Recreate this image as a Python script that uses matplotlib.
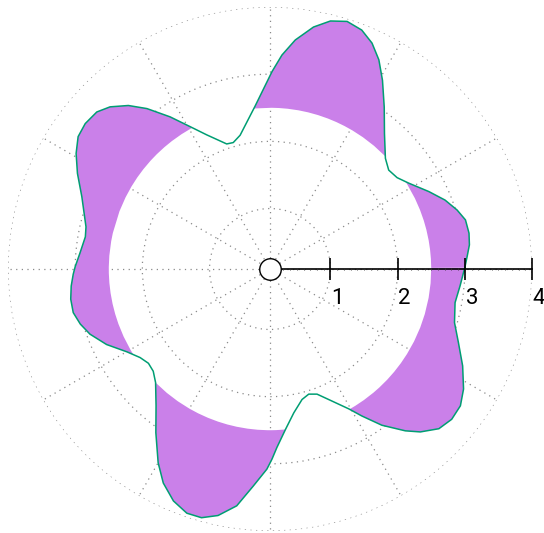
import numpy as np
import matplotlib
matplotlib.use('Agg')
import matplotlib.pyplot as plt

theta_deg = [0.4, 3.6, 6.9, 10.2, 14.1, 17.5, 21.5, 26.0, 31.7, 35.7,
             39.8, 43.8, 49.8, 54.8, 59.2, 62.5, 65.7, 69.0, 72.7, 76.3,
             79.8, 83.7, 86.8, 89.4, 95.3, 102.6, 106.2, 109.1, 115.3, 119.3,
             123.3, 127.5, 130.9, 134.6, 137.8, 141.8, 145.4, 149.2, 153.6, 159.0,
             167.1, 170.1, 175.3, 179.3, 181.5, 184.9, 188.6, 192.5, 196.2, 199.9,
             204.8, 210.1, 214.3, 217.8, 221.2, 224.8, 230.2, 235.1, 240.0, 243.5,
             247.4, 251.2, 254.6, 258.1, 262.0, 265.6, 269.1, 270.6, 272.2, 275.5,
             279.4, 283.8, 287.2, 290.6, 294.2, 299.4, 302.0, 305.6, 309.9, 312.7,
             316.6, 320.4, 324.3, 328.2, 333.3, 338.7, 343.8, 349.7, 354.9]
r_vals = [3.00, 3.04, 3.09, 3.11, 3.10, 3.02, 2.90, 2.73, 2.53, 2.43,
          2.40, 2.48, 2.74, 3.05, 3.37, 3.61, 3.79, 3.91, 3.96, 3.90,
          3.76, 3.53, 3.29, 3.04, 2.53, 2.14, 2.06, 2.07, 2.31, 2.53,
          2.81, 3.11, 3.32, 3.49, 3.58, 3.60, 3.57, 3.46, 3.30, 3.10,
          2.91, 2.89, 2.94, 3.00, 3.03, 3.07, 3.10, 3.10, 3.04, 2.95,
          2.78, 2.56, 2.44, 2.39, 2.41, 2.50, 2.75, 3.07, 3.43, 3.66,
          3.84, 3.94, 3.94, 3.85, 3.66, 3.34, 3.08, 2.93, 2.76, 2.50,
          2.27, 2.10, 2.05, 2.09, 2.23, 2.49, 2.68, 2.96, 3.24, 3.40,
          3.56, 3.61, 3.59, 3.49, 3.31, 3.11, 2.96, 2.90, 2.94]
fill_base = 2.5
r_ticks = [1, 2, 3, 4]
r_min, r_max = 0.1, 4.0

th = np.deg2rad(np.array(theta_deg + [theta_deg[0] + 360]))
rr = np.array(r_vals + [r_vals[0]])

fig = plt.figure(figsize=(5.44, 5.33), dpi=100)
ax = fig.add_axes([8/544, 2/533, 524/544, 524/533], projection='polar')
ax.set_axisbelow(True)
ax.set_rlim(r_min, r_max)
ax.set_thetagrids(np.arange(0, 360, 30), labels=[])
ax.set_rgrids(r_ticks, labels=[])
ax.grid(True, color='#8a8a8a', linestyle=(0, (1, 3.5)), linewidth=0.9, zorder=0)
ax.spines['polar'].set_visible(False)

ax.fill_between(th, fill_base, rr, where=rr >= fill_base, interpolate=True,
                facecolor='#ca80e9', linewidth=0, zorder=2)
ax.plot(th, rr, color='#009e73', lw=1.1, zorder=3)

# radial axis with ticks
ax.plot([0, 0], [0.26, r_max], color='black', lw=1.2, zorder=4, clip_on=False)
minor = np.arange(0.3, 4.0, 0.1)
ax.plot(np.zeros_like(minor), minor, ls='none', marker='|', ms=1.6, mew=0.6,
        color='#333333', zorder=4, clip_on=False)
ax.plot(np.zeros(len(r_ticks)), r_ticks, ls='none', marker='|', ms=16, mew=1.2,
        color='black', zorder=4, clip_on=False)
ax.plot([0], [r_min], marker='o', ms=15.5, mfc='white', mec='black', mew=1.0,
        zorder=5, clip_on=False)
for t in r_ticks:
    ax.annotate(str(t), xy=(0, t), xytext=(0.5, -13.5), textcoords='offset points',
                ha='left', va='top', fontsize=16, family=['Roboto', 'DejaVu Sans'],
                zorder=6, annotation_clip=False)

fig.savefig('out.png', dpi=100)
